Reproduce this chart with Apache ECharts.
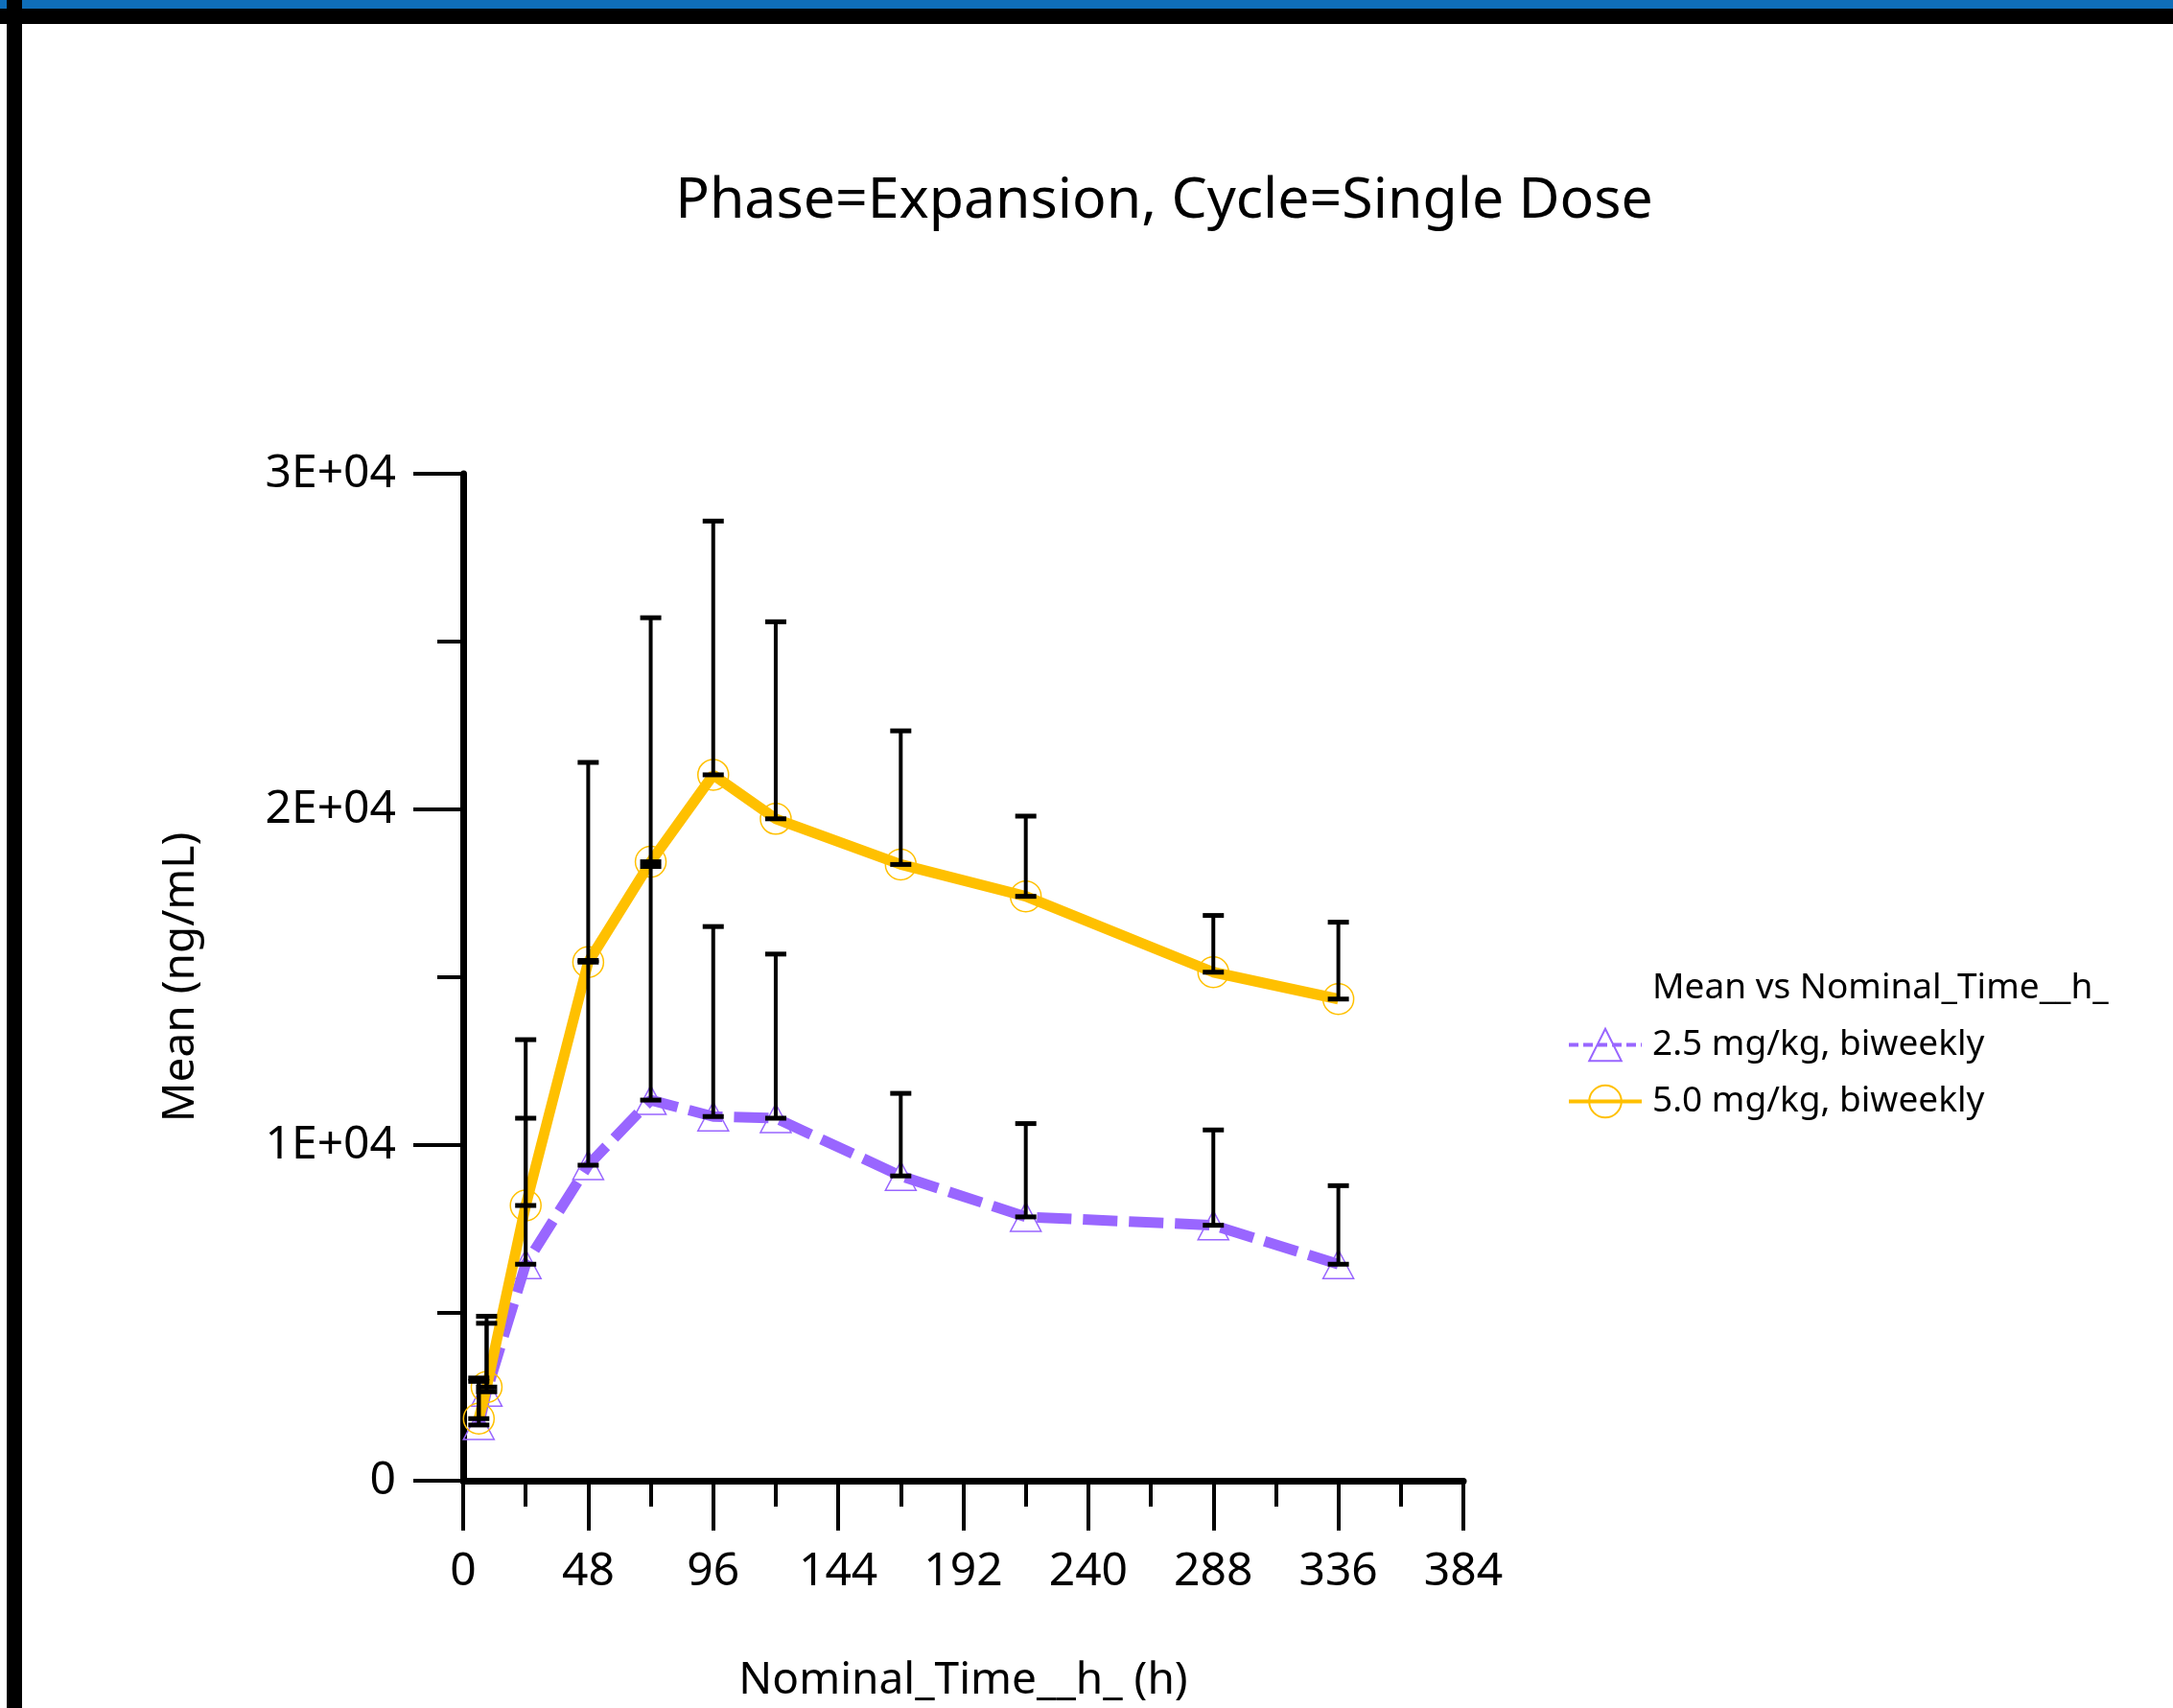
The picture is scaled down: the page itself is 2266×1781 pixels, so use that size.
<!DOCTYPE html>
<html>
<head>
<meta charset="utf-8">
<title>Phase=Expansion, Cycle=Single Dose</title>
<script src="https://cdn.jsdelivr.net/npm/echarts@6/dist/echarts.min.js"></script>
<style>
  html, body { margin: 0; padding: 0; background: #fff; }
  #chart { width: 2266px; height: 1781px; }
</style>
</head>
<body>
<div id="chart"></div>
<script>
// nominal times (h)
var times = [6, 9, 24, 48, 72, 96, 120, 168, 216, 288, 336];
// 2.5 mg/kg: mean and mean + SD
var mean25  = [1660, 2650, 6450, 9400, 11340, 10850, 10800, 9080, 7860, 7610, 6450];
var upper25 = [2960, 4690, 10800, 15500, 18300, 16510, 15690, 11540, 10640, 10450, 8790];
// 5.0 mg/kg: mean and mean + SD
var mean50  = [1850, 2790, 8200, 15450, 18440, 21030, 19720, 18360, 17410, 15150, 14350];
var upper50 = [3060, 4900, 13140, 21400, 25710, 28590, 25590, 22340, 19800, 16840, 16640];
var yTickLabels = ['0', '1E+04', '2E+04', '3E+04'];
var seriesNames = ['2.5 mg/kg, biweekly', '5.0 mg/kg, biweekly'];

var FONT = '"Noto Sans", "Open Sans", sans-serif';
var PURPLE = '#9966FF', ORANGE = '#FFC000';

function pairs(ys) {
  return times.map(function (t, i) { return [t, ys[i]]; });
}
function bars(lo, hi) {
  return times.map(function (t, i) { return [t, lo[i], hi[i]]; });
}

// mean-to-upper error bar with caps at both ends
function errorBar(params, api) {
  var x = api.value(0);
  var lo = api.coord([x, api.value(1)]);
  var hi = api.coord([x, api.value(2)]);
  var w = 11;
  var st = { stroke: '#000', lineWidth: 4 };
  var cap = { stroke: '#000', lineWidth: 5 };
  return {
    type: 'group',
    children: [
      { type: 'line', shape: { x1: lo[0], y1: lo[1], x2: hi[0], y2: hi[1] }, style: st },
      { type: 'line', shape: { x1: hi[0] - w, y1: hi[1], x2: hi[0] + w, y2: hi[1] }, style: cap },
      { type: 'line', shape: { x1: lo[0] - w, y1: lo[1], x2: lo[0] + w, y2: lo[1] }, style: cap }
    ]
  };
}

var myChart = echarts.init(document.getElementById('chart'));
var option = {
  animation: false,
  backgroundColor: '#fff',
  grid: { left: 483, right: 740, top: 494, bottom: 231 },
  graphic: [
    { type: 'rect', shape: { x: 0, y: 0, width: 2266, height: 9 }, style: { fill: '#0F6EB9' } },
    { type: 'rect', shape: { x: 0, y: 9, width: 2266, height: 16 }, style: { fill: '#000' } },
    { type: 'rect', shape: { x: 7, y: 0, width: 16, height: 1781 }, style: { fill: '#000' } },
    {
      type: 'text', x: 1214, y: 210,
      style: {
        text: 'Phase=Expansion, Cycle=Single Dose', fill: '#000',
        fontSize: 59, fontFamily: FONT,
        align: 'center', verticalAlign: 'middle', textAlign: 'center', textVerticalAlign: 'middle'
      }
    },
    {
      type: 'text', x: 1723, y: 1030,
      style: {
        text: 'Mean vs Nominal_Time__h_', fill: '#000',
        fontSize: 37, fontFamily: FONT,
        align: 'left', verticalAlign: 'middle', textAlign: 'left', textVerticalAlign: 'middle'
      }
    }
  ],
  legend: {
    orient: 'vertical',
    left: 1629,
    top: 1066,
    itemWidth: 76,
    itemHeight: 42,
    itemGap: 22,
    selectedMode: false,
    textStyle: { fontFamily: FONT, fontSize: 37, color: '#000', padding: [0, 0, 0, 6] },
    data: [
      { name: seriesNames[0], lineStyle: { width: 4, type: [10, 5] } },
      { name: seriesNames[1], lineStyle: { width: 4 } }
    ]
  },
  xAxis: {
    type: 'value',
    min: 0, max: 384, interval: 48,
    axisLine: { show: true, onZero: false, lineStyle: { color: '#000', width: 7 } },
    axisTick: { show: true, length: 52, lineStyle: { color: '#000', width: 4 } },
    minorTick: { show: true, splitNumber: 2, length: 27, lineStyle: { color: '#000', width: 4 } },
    splitLine: { show: false },
    axisLabel: { margin: 71, fontSize: 48, color: '#000', fontFamily: FONT },
    name: 'Nominal_Time__h_ (h)',
    nameLocation: 'middle',
    nameGap: 186,
    nameTextStyle: { fontSize: 46, color: '#000', fontFamily: FONT }
  },
  yAxis: {
    type: 'value',
    min: 0, max: 30000, interval: 10000,
    axisLine: { show: true, onZero: false, lineStyle: { color: '#000', width: 7 } },
    axisTick: { show: true, length: 52, lineStyle: { color: '#000', width: 4 } },
    minorTick: { show: true, splitNumber: 2, length: 27, lineStyle: { color: '#000', width: 4 } },
    splitLine: { show: false },
    axisLabel: {
      margin: 70, fontSize: 48, color: '#000', fontFamily: FONT,
      formatter: function (v) { return yTickLabels[Math.round(v / 10000)]; }
    },
    name: 'Mean (ng/mL)',
    nameLocation: 'middle',
    nameGap: 271,
    nameTextStyle: { fontSize: 46, color: '#000', fontFamily: FONT }
  },
  series: [
    {
      name: seriesNames[0],
      type: 'line',
      data: pairs(mean25),
      symbol: 'triangle',
      symbolSize: [32, 30],
      z: 2,
      lineStyle: { color: PURPLE, width: 11, type: [36, 12], cap: 'butt' },
      itemStyle: { color: 'rgba(0,0,0,0)', borderColor: PURPLE, borderWidth: 1.5 },
      emphasis: { disabled: true }
    },
    {
      name: seriesNames[1],
      type: 'line',
      data: pairs(mean50),
      symbol: 'circle',
      symbolSize: 32,
      z: 3,
      lineStyle: { color: ORANGE, width: 11 },
      itemStyle: { color: 'rgba(0,0,0,0)', borderColor: ORANGE, borderWidth: 1.5 },
      emphasis: { disabled: true }
    },
    {
      type: 'custom',
      renderItem: errorBar,
      data: bars(mean25, upper25),
      encode: { x: 0, y: [1, 2] },
      z: 10,
      silent: true
    },
    {
      type: 'custom',
      renderItem: errorBar,
      data: bars(mean50, upper50),
      encode: { x: 0, y: [1, 2] },
      z: 10,
      silent: true
    }
  ]
};
myChart.setOption(option);
</script>
</body>
</html>
